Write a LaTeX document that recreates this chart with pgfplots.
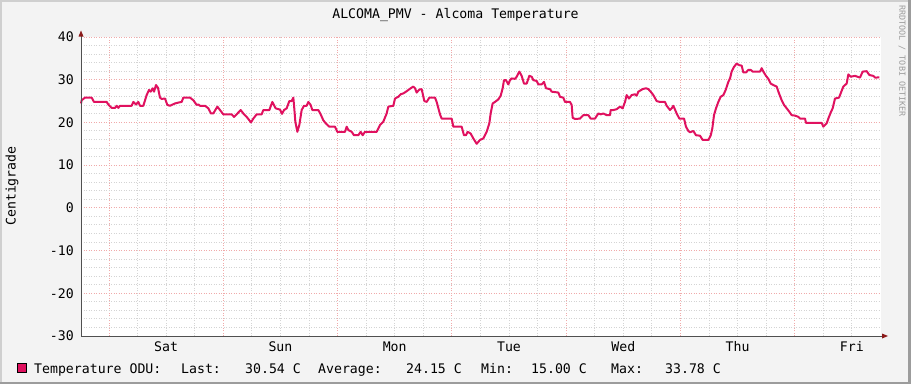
\documentclass[border=0pt]{standalone}
\usepackage{fontspec}
\setmainfont{DejaVu Sans Mono}
\usepackage{pgfplots}
\pgfplotsset{compat=1.18}
\usetikzlibrary{arrows.meta}
\definecolor{bg}{RGB}{243,243,243}
\definecolor{series}{RGB}{224,17,95}
\definecolor{mgrid}{RGB}{240,170,170}
\definecolor{ngrid}{RGB}{212,212,212}
\definecolor{axcol}{RGB}{80,80,80}
\definecolor{arrcol}{RGB}{140,26,26}
\definecolor{frameL}{RGB}{207,207,207}
\definecolor{frameD}{RGB}{156,156,156}
\begin{document}
\begin{tikzpicture}[x=1pt,y=1pt]
\useasboundingbox (0,0) rectangle (911,384);
\fill[bg] (0,0) rectangle (911,384);
\fill[frameL] (0,382) rectangle (911,384);
\fill[frameL] (0,0) rectangle (2,384);
\fill[frameD] (908,0) rectangle (911,384);
\fill[frameD] (0,0) rectangle (911,2.5);
\fill[white] (81,48) rectangle (881,347);
\begin{axis}[
  at={(81pt,48pt)}, anchor=south west,
  scale only axis, width=800pt, height=299pt,
  xmin=0, xmax=168, ymin=-30, ymax=40,
  axis line style={draw=none},
  font=\fontsize{13.2}{15}\selectfont,
  xtick={5.88,29.88,53.88,77.88,101.88,125.88,149.88},
  xticklabels={},
  minor xtick={11.88,17.88,23.88,35.88,41.88,47.88,59.88,65.88,71.88,83.88,89.88,95.88,107.88,113.88,119.88,131.88,137.88,143.88,155.88,161.88},
  extra x ticks={17.88,41.88,65.88,89.88,113.88,137.88,161.88},
  extra x tick labels={Sat,Sun,Mon,Tue,Wed,Thu,Fri},
  extra x tick style={grid=none, xticklabel style={anchor=base, yshift=-15.5pt, inner sep=0pt}},
  ytick={-30,-20,-10,0,10,20,30,40},
  yticklabels={-30,-20,-10,0,10,20,30,40},
  minor y tick num=4,
  yticklabel style={anchor=east, inner sep=0pt, xshift=-7pt},
  tick style={draw=none},
  grid=both,
  major grid style={mgrid, line width=1pt, dash pattern=on 1pt off 1.5pt},
  minor grid style={ngrid, line width=1pt, dash pattern=on 1pt off 1.5pt},
  clip=false,
]
\addplot[series, line width=2pt, line join=round, mark=none] coordinates {
(0,24.45)(0.14,25.2)(0.84,25.8)(2.24,25.8)(2.73,24.8)(5.39,24.8)(5.74,24.2)(6.44,23.4)(7.14,23.4)(7.49,23.9)(7.84,23.4)(8.19,23.9)(10.64,23.9)(10.99,24.8)(11.55,24.2)(12.04,24.8)(12.39,23.9)(13.09,23.9)(13.79,26.4)(14.28,27.6)(14.63,27.2)(15.05,28)(15.33,27.2)(15.75,28.75)(16.17,28.1)(16.59,25.8)(16.94,25.5)(17.64,25.6)(18.13,24.1)(18.69,23.9)(19.74,24.45)(20.65,24.7)(21.14,24.8)(21.49,25.8)(22.89,25.8)(23.59,25.2)(24.29,24.1)(24.64,24.2)(24.99,23.9)(26.04,23.9)(26.74,23.3)(27.3,22.1)(27.79,22.1)(28.63,23.7)(29.19,22.9)(29.89,21.9)(31.64,21.9)(32.13,21.3)(32.69,21.9)(33.53,22.9)(34.23,21.9)(34.79,21.3)(35.7,20)(36.19,20.9)(36.89,21.9)(37.94,21.9)(38.29,22.9)(39.55,22.9)(40.18,24.8)(40.88,23.3)(41.79,23)(42.21,22)(42.63,22.9)(43.19,23.3)(43.75,25)(44.24,25)(44.59,25.8)(44.73,24.1)(45.01,20.2)(45.43,17.8)(45.85,19.4)(46.34,22.9)(46.83,23.9)(47.39,23.9)(47.74,24.8)(48.23,24.1)(48.58,22.9)(49.84,22.9)(50.33,21.9)(50.89,20.5)(51.38,19.8)(52.15,19)(53.34,19)(53.83,17.8)(55.44,17.8)(55.79,19)(56.14,18.2)(56.84,17.8)(57.33,17)(58.24,17)(58.73,17.8)(59.15,17)(59.64,17.8)(62.09,17.8)(62.79,19.4)(63.49,20.2)(64.19,22.1)(64.54,23.7)(65.59,23.9)(65.94,25.6)(66.64,26)(67.13,26.6)(67.69,26.8)(68.25,27.2)(68.74,27.6)(69.23,28)(69.79,28.4)(70.14,28)(70.49,27)(71.05,27.7)(71.54,27.8)(72.10,25)(72.59,24.8)(73.15,25.8)(74.34,25.8)(74.69,24.8)(75.39,21.9)(75.74,20.9)(77.84,20.9)(78.19,19)(79.94,19)(80.43,17)(80.85,17)(81.20,17.8)(81.83,17.4)(82.39,16.25)(83.09,15.0)(83.79,15.9)(84.49,16.25)(85.19,17.8)(85.75,19.8)(86.03,22.1)(86.45,24.45)(86.94,24.8)(87.64,25.4)(88.13,26.25)(88.55,28)(88.83,29.9)(89.25,29.9)(89.74,28.9)(90.09,29.9)(90.44,30.3)(91.14,30.2)(91.49,30.7)(92.05,31.9)(92.54,30.9)(93.03,29.1)(93.59,29.1)(94.15,30.9)(94.64,30.7)(94.99,29.9)(95.69,29.7)(96.04,28.9)(96.74,28.9)(97.23,29.5)(97.65,28)(98.49,27.8)(98.84,27.2)(100.24,27)(100.59,26)(101.29,25.8)(101.64,24.8)(102.69,24.8)(103.04,24.1)(103.25,21.1)(103.74,20.8)(104.79,20.9)(105.49,21.7)(106.54,21.7)(107.03,20.9)(107.94,20.9)(108.64,22.1)(109.13,21.9)(109.69,22.1)(110.39,21.7)(111.09,21.7)(111.23,22.9)(111.79,22.9)(112.49,23.1)(113.19,23.7)(113.75,23.3)(114.24,24.8)(114.59,26.4)(115.08,25.6)(115.64,26.4)(116.34,26.6)(116.69,26.25)(117.04,27.2)(117.95,27.8)(118.65,28)(119.14,27.8)(119.63,27.2)(120.19,26.4)(120.89,25)(121.59,24.8)(122.64,24.8)(122.99,23.9)(123.69,22.9)(124.04,23.3)(124.39,23.9)(125.09,22.1)(125.65,20.9)(126.63,20.9)(127.05,19)(127.54,18)(127.89,17.7)(128.59,18)(129.15,17)(129.99,16.9)(130.55,15.9)(131.74,15.9)(132.23,16.9)(132.58,18.6)(132.93,21.7)(133.35,23.3)(133.84,24.8)(134.33,26)(134.89,26.4)(135.38,27.6)(135.94,29.5)(136.29,30.3)(136.64,31.9)(137.13,33)(137.69,33.78)(138.25,33.4)(138.74,33.3)(139.09,31.7)(139.65,31.7)(140.14,32.3)(140.63,32.3)(141.05,31.9)(142.59,31.9)(142.94,32.7)(143.29,31.9)(143.85,30.9)(144.34,30.2)(144.83,29.1)(145.39,28.75)(146.09,28.4)(146.58,26.8)(147.14,25.2)(147.63,24.1)(148.19,23.3)(148.75,22.5)(149.24,21.7)(149.94,21.6)(150.64,21.3)(150.99,20.9)(152.04,20.9)(152.25,19.9)(155.54,19.9)(155.89,19)(156.59,19.8)(156.94,20.9)(157.43,22.3)(157.85,23.3)(158.34,25.6)(159.18,25.8)(159.6,27)(160.09,28.4)(160.79,29.1)(161.14,31.25)(161.63,30.7)(162.54,30.9)(163.59,30.5)(164.15,31.9)(164.99,32)(165.55,31.1)(166.39,30.9)(166.74,30.5)(167.65,30.54)
};
\end{axis}
% axes lines and arrows
\draw[axcol, line width=1pt] (81,48) -- (81,351);
\fill[arrcol] (78.5,347.5) -- (83.5,347.5) -- (81,353.5) -- cycle;
\draw[axcol, line width=1pt] (81,48) -- (883,48);
\fill[arrcol] (882,45.5) -- (882,50.5) -- (888,48) -- cycle;
% texts
\node[anchor=base, inner sep=0pt, font=\fontsize{13.2}{15}\selectfont] at (455.5,365) {ALCOMA\_PMV - Alcoma Temperature};
\node[rotate=90, inner sep=0pt, font=\fontsize{13.2}{15}\selectfont] at (12,198) {Centigrade};
\node[rotate=-90, inner sep=0pt, text=frameD, font=\fontsize{8.4}{10}\selectfont] at (902,323) {RRDTOOL / TOBI OETIKER};
% legend
\filldraw[fill=series, draw=black, line width=0.8pt] (17.5,11.5) rectangle (26.5,20.5);
\begin{scope}[every node/.style={anchor=base west, inner sep=0pt, font=\fontsize{13.2}{15}\selectfont}]
\node at (34,11) {Temperature ODU:};
\node at (181,11) {Last:};
\node at (245,11) {30.54 C};
\node at (318,11) {Average:};
\node at (406,11) {24.15 C};
\node at (481,11) {Min:};
\node at (531,11) {15.00 C};
\node at (611,11) {Max:};
\node at (665,11) {33.78 C};
\end{scope}
\end{tikzpicture}
\end{document}
